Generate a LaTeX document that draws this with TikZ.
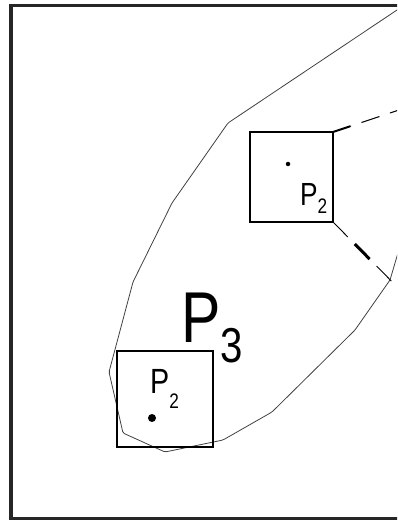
\documentclass[tikz,border=0pt]{standalone}
\usepackage{fontspec}
\setmainfont{Liberation Sans}
\usetikzlibrary{positioning}

\begin{document}
\begin{tikzpicture}[
    x=1pt, y=-1pt,
    region/.style={draw, inner sep=0pt, outer sep=0pt},
    spot/.style={circle, fill, inner sep=0pt},
    lbl/.style={anchor=base west, inner sep=0pt, xscale=0.82},
    outline/.style={draw=black!75, line width=0.8pt, rounded corners=1.5pt}
]
\clip (0,0) rectangle (397,521);
% frame
\draw[line width=3.5pt, black!85] (410,5.5) -- (11,5.5) -- (11,518.5) -- (410,518.5);
% outline of the region
\draw[outline] (400,8) -- (228,123) -- (172,203) -- (133,282) -- (109,372)
    -- (123,433) -- (165,452) -- (223,440) -- (272,412) -- (355,330)
    -- (390,280) -- (400,246);
% windows
\node[region, line width=1.5pt, minimum width=83pt, minimum height=90pt] (win1) at (291.5,177) {};
\node[region, line width=2pt, minimum width=96pt, minimum height=96pt] (win2) at (165,399) {};
\node[spot, minimum size=4.5pt] (pt1) at (288,164) {};
\node[spot, minimum size=8pt] (pt2) at (152,418) {};
% labels
\node[lbl, font=\fontsize{72}{72}\selectfont] (p3) at (181,342)
    {P\raisebox{-20pt}{\fontsize{49}{49}\selectfont 3}};
\node[lbl, font=\fontsize{35}{35}\selectfont] (p2a) at (150,393)
    {P\raisebox{-15pt}{\fontsize{21}{21}\selectfont 2}};
\node[lbl, font=\fontsize{32}{32}\selectfont] (p2b) at (300,205)
    {P\raisebox{-8pt}{\fontsize{21}{21}\selectfont 2}};
% dashed leaders
\coordinate (ne end) at (420,103);
\coordinate (se end) at (420,310);
\draw[line width=1pt, dash pattern=on 19pt off 11pt] (win1.north east) -- (ne end);
\draw[line width=2pt, dash pattern=on 18pt off 400pt] (win1.north east) -- (ne end);
\draw[line width=0.9pt, dash pattern=on 21pt off 10pt] (win1.south east) -- (se end);
\draw[line width=3pt, dash pattern=on 0pt off 31pt on 21pt off 400pt] (win1.south east) -- (se end);
\end{tikzpicture}
\end{document}
